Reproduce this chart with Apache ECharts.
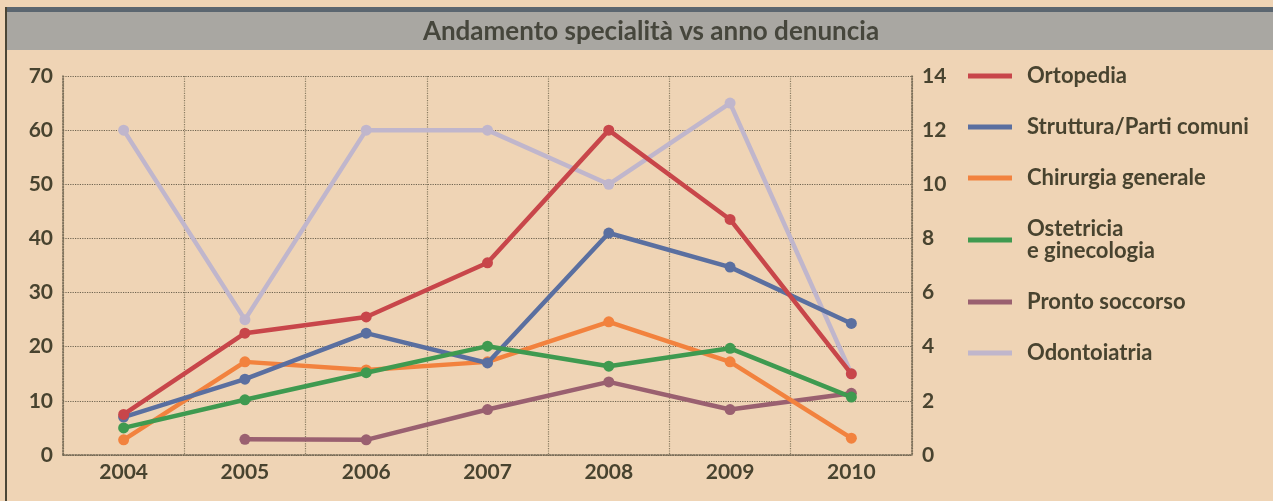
<!DOCTYPE html>
<html>
<head>
<meta charset="utf-8">
<script src="https://cdn.jsdelivr.net/npm/echarts@6/dist/echarts.min.js"></script>
<style>
  html, body { margin: 0; padding: 0; background: #efd4b5; }
  #chart { width: 1273px; height: 501px; }
</style>
</head>
<body>
<div id="chart"></div>
<script>
// anni
var years = ['2004', '2005', '2006', '2007', '2008', '2009', '2010'];

// serie (asse sinistro 0-70)
var ortopedia = [7.5, 22.5, 25.5, 35.5, 60, 43.5, 15];
var struttura = [7, 14, 22.5, 17, 41, 34.7, 24.3];
var chirurgia = [2.8, 17.2, 15.7, 17.2, 24.6, 17.2, 3.1];
var ostetricia = [5, 10.2, 15.2, 20.1, 16.4, 19.7, 10.7];
var prontoSoccorso = [null, 2.9, 2.8, 8.4, 13.5, 8.4, 11.4];
// asse destro 0-14
var odontoiatria = [12, 5, 12, 12, 10, 13, 3];

var seriesNames = ['Ortopedia', 'Struttura/Parti comuni', 'Chirurgia generale',
    'Ostetricia e ginecologia', 'Pronto soccorso', 'Odontoiatria'];
var legendLabels = ['Ortopedia', 'Struttura/Parti comuni', 'Chirurgia generale',
    'Ostetricia\ne ginecologia', 'Pronto soccorso', 'Odontoiatria'];
var colors = ['#c8464a', '#5a6fa0', '#f2823e', '#3f9a50', '#9a6070', '#c0b6cc'];

var txt = '#48432f';
var font = 'Lato';

var myChart = echarts.init(document.getElementById('chart'));

function line(i, data, axis, z) {
    return {
        name: seriesNames[i],
        type: 'line',
        yAxisIndex: axis,
        data: data,
        z: z,
        symbol: 'circle',
        symbolSize: 11,
        connectNulls: false,
        lineStyle: { color: colors[i], width: 4.5 },
        itemStyle: { color: colors[i] }
    };
}

var option = {
    backgroundColor: '#efd4b5',
    animation: false,
    title: {
        text: 'Andamento specialità vs anno denuncia',
        left: 646,
        top: 14,
        textAlign: 'center',
        textStyle: { fontFamily: font, fontWeight: 'bold', fontSize: 26, color: '#46463c' }
    },
    graphic: [
        { type: 'rect', shape: { x: 6, y: 10, width: 1267, height: 40 }, style: { fill: '#a9a7a2' }, z: -10 },
        { type: 'rect', shape: { x: 6, y: 7, width: 1267, height: 5 }, style: { fill: '#5b6670' }, z: -9 },
        { type: 'rect', shape: { x: 5, y: 7, width: 2, height: 494 }, style: { fill: '#4b4636' }, z: -9 }
    ],
    legend: {
        orient: 'vertical',
        left: 963,
        top: 60,
        itemWidth: 44,
        itemHeight: 5,
        itemGap: 29,
        icon: 'rect',
        data: seriesNames,
        formatter: function (name) {
            return legendLabels[seriesNames.indexOf(name)];
        },
        textStyle: { fontFamily: font, fontWeight: 'bold', fontSize: 22, color: txt, padding: [0, 0, 0, 10], lineHeight: 22 }
    },
    grid: { left: 63, right: 361, top: 76, bottom: 46 },
    xAxis: {
        type: 'category',
        data: years,
        boundaryGap: true,
        axisTick: { show: false },
        axisLine: { lineStyle: { color: '#6f6450', type: 'dotted', width: 1.5 } },
        axisLabel: { fontFamily: font, fontWeight: 'bold', fontSize: 21, color: txt, margin: 7 },
        splitLine: { show: true, lineStyle: { color: '#8a7c62', type: 'dotted', width: 1.2 } }
    },
    yAxis: [
        {
            type: 'value',
            min: 0, max: 70, interval: 10,
            axisLine: { show: true, lineStyle: { color: '#6f6450', type: 'dotted', width: 1.5 } },
            axisTick: { show: false },
            axisLabel: { fontFamily: font, fontWeight: 'bold', fontSize: 21, color: txt, margin: 10 },
            splitLine: { lineStyle: { color: '#6f6450', type: 'dotted', width: 1.2 } }
        },
        {
            type: 'value',
            position: 'right',
            min: 0, max: 14, interval: 2,
            axisLine: { show: true, lineStyle: { color: '#6f6450', type: 'dotted', width: 1.5 } },
            axisTick: { show: false },
            axisLabel: { fontFamily: font, fontWeight: 'bold', fontSize: 21, color: txt, margin: 10 },
            splitLine: { show: false }
        }
    ],
    series: [
        line(0, ortopedia, 0, 8),
        line(1, struttura, 0, 6),
        line(2, chirurgia, 0, 5),
        line(3, ostetricia, 0, 7),
        line(4, prontoSoccorso, 0, 4),
        line(5, odontoiatria, 1, 3)
    ]
};

myChart.setOption(option);
</script>
</body>
</html>
